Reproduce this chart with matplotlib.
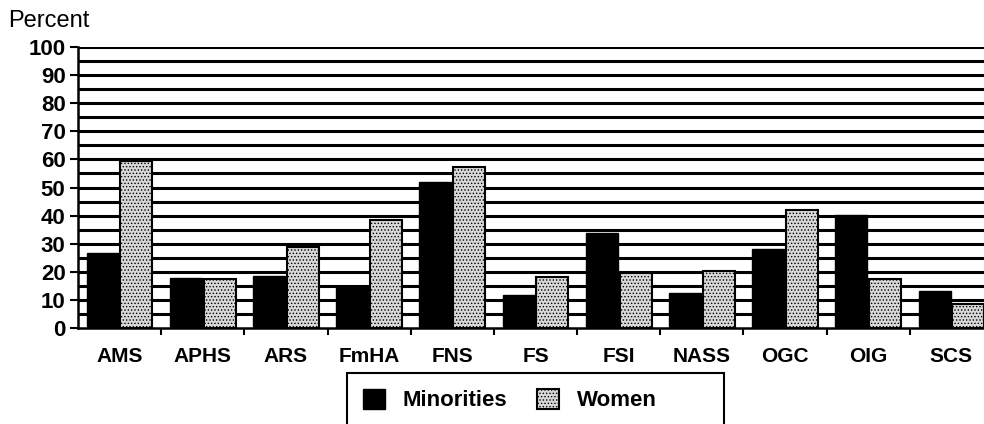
import numpy as np
import matplotlib.pyplot as plt
from matplotlib.patches import Rectangle, Patch

plt.rcParams['font.family'] = ['Liberation Sans', 'DejaVu Sans']
plt.rcParams['hatch.color'] = '#444444'
plt.rcParams['hatch.linewidth'] = 0.6

# dados
agencias = ['AMS', 'APHS', 'ARS', 'FmHA', 'FNS', 'FS', 'FSI', 'NASS', 'OGC', 'OIG', 'SCS']
minorias = [26.7, 17.9, 18.5, 14.7, 52.1, 11.7, 33.9, 12.3, 28.1, 40.2, 13.2]
mulheres = [59.3, 17.4, 28.9, 38.4, 57.4, 18.3, 19.7, 20.4, 42.0, 17.4, 8.5]
y_ticks = list(range(0, 101, 10))

fig = plt.figure(figsize=(9.84, 4.24), dpi=100)
ax = fig.add_axes([78/984, 1 - 328/424, 915/984, 281/424])

x = np.arange(len(agencias))
w = 0.385

# linhas horizontais a cada 5
for yy in range(5, 101, 5):
    ax.axhline(yy, color='black', linewidth=2.2, zorder=1)

ax.bar(x - w/2 - 0.01, minorias, width=w, color='black', edgecolor='black',
       linewidth=1.0, zorder=3, label='Minorities')
ax.bar(x + w/2 + 0.01, mulheres, width=w, color='#d8d8d8', edgecolor='black',
       hatch='.....', linewidth=1.5, zorder=3, label='Women')

ax.set_xlim(-0.5, len(agencias) - 0.5)
ax.set_ylim(0, 100)
ax.set_yticks(y_ticks)
ax.set_yticklabels([str(v) for v in y_ticks], fontsize=16, fontweight='bold')
ax.set_xticks(x)
ax.set_xticklabels(agencias, fontsize=15, fontweight='bold')
ax.set_xticks(np.arange(0.5, len(agencias) - 0.5, 1), minor=True)
ax.tick_params(axis='x', which='major', length=0, pad=14)
ax.tick_params(axis='x', which='minor', length=5, width=1.5, direction='out')
ax.tick_params(axis='y', length=6, width=1.5, direction='out', pad=3)

for s in ['top', 'right']:
    ax.spines[s].set_visible(False)
for s in ['left', 'bottom']:
    ax.spines[s].set_linewidth(1.8)

fig.text(8/984, 1 - 21/424, 'Percent', fontsize=17, va='center', ha='left')

# caixa da legenda
fig.patches.append(Rectangle((347/984, -0.02), 377/984, 0.02 + 1 - 373/424,
                             transform=fig.transFigure, fill=False,
                             edgecolor='black', linewidth=1.5))
handles = [Patch(facecolor='black', edgecolor='black'),
           Patch(facecolor='#d8d8d8', edgecolor='black', hatch='.....', linewidth=1.5)]
fig.legend(handles, ['Minorities', 'Women'], loc='center left',
           bbox_to_anchor=(343/984, 1 - 400/424), ncol=2, frameon=False,
           prop={'size': 16, 'weight': 'bold'}, handlelength=1.0, handleheight=1.0,
           columnspacing=1.3, handletextpad=0.8)

fig.savefig('out.png', dpi=100)
